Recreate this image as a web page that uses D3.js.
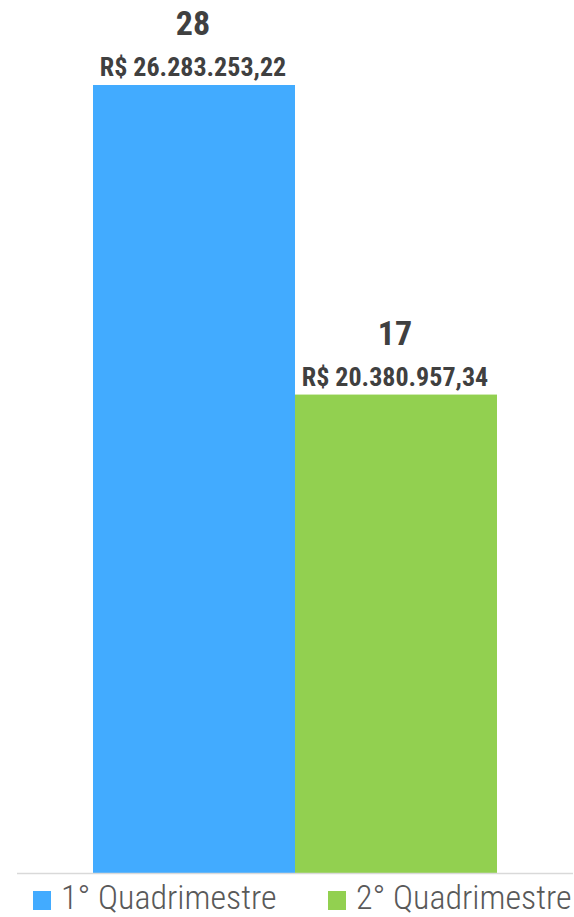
<!DOCTYPE html>
<html lang="pt">
<head>
  <meta charset="utf-8">
  <script src="https://d3js.org/d3.v7.min.js"></script>
  <style>
    body { margin: 0; background: #fff; }
    text { font-family: "Liberation Sans Narrow", "Arial Narrow", "Roboto Condensed", sans-serif; }
  </style>
</head>
<body>
<script>
  var categories = ['1° Quadrimestre', '2° Quadrimestre'];
  var counts = [28, 17];
  var amounts = ['R$ 26.283.253,22', 'R$ 20.380.957,34'];
  var colors = ['#42abff', '#92d050'];

  var w = 574, h = 917;
  var base = 873;

  var svg = d3.select('body').append('svg')
      .attr('width', w)
      .attr('height', h);

  var data = categories.map(function(c, i) {
    return {name: c, count: counts[i], amount: amounts[i], color: colors[i]};
  });

  var x = d3.scaleBand().domain(categories).range([93, 497]).paddingInner(0);
  var y = d3.scaleLinear().domain([0, 28]).range([base, 85]);

  svg.selectAll('.bar')
      .data(data)
    .enter().append('rect')
      .attr('class', 'bar')
      .attr('x', function(d) { return x(d.name); })
      .attr('y', function(d) { return y(d.count); })
      .attr('width', x.bandwidth())
      .attr('height', function(d) { return base - y(d.count); })
      .style('fill', function(d) { return d.color; });

  // baseline
  svg.append('line')
    .attr('x1', 17).attr('x2', 573)
    .attr('y1', base + 0.5).attr('y2', base + 0.5)
    .style('stroke', '#d9d9d9')
    .style('stroke-width', 1.5);

  // labels
  svg.selectAll('.amount')
      .data(data)
    .enter().append('text')
      .attr('class', 'amount')
      .attr('x', function(d) { return x(d.name) + x.bandwidth() / 2 - 1; })
      .attr('y', function(d) { return y(d.count) - 9; })
      .attr('text-anchor', 'middle')
      .style('font-size', '26px')
      .style('font-weight', 'bold')
      .style('fill', '#404040')
      .text(function(d) { return d.amount; });

  svg.selectAll('.count')
      .data(data)
    .enter().append('text')
      .attr('class', 'count')
      .attr('x', function(d) { return x(d.name) + x.bandwidth() / 2 - 1; })
      .attr('y', function(d) { return y(d.count) - 50; })
      .attr('text-anchor', 'middle')
      .style('font-size', '34px')
      .style('font-weight', 'bold')
      .style('fill', '#404040')
      .text(function(d) { return d.count; });

  // legend
  var legendX = [33, 328];
  var legend = svg.selectAll('.legend')
      .data(data)
    .enter().append('g')
      .attr('class', 'legend')
      .attr('transform', function(d, i) { return 'translate(' + [legendX[i], 0] + ')'; });

  legend.append('rect')
    .attr('x', 0).attr('y', 891)
    .attr('width', 18).attr('height', 19)
    .style('fill', function(d) { return d.color; });

  legend.append('text')
    .attr('x', 28).attr('y', 909)
    .style('font-size', '34px')
    .style('font-weight', 300)
    .style('fill', '#595959')
    .text(function(d) { return d.name; });
</script>
</body>
</html>
